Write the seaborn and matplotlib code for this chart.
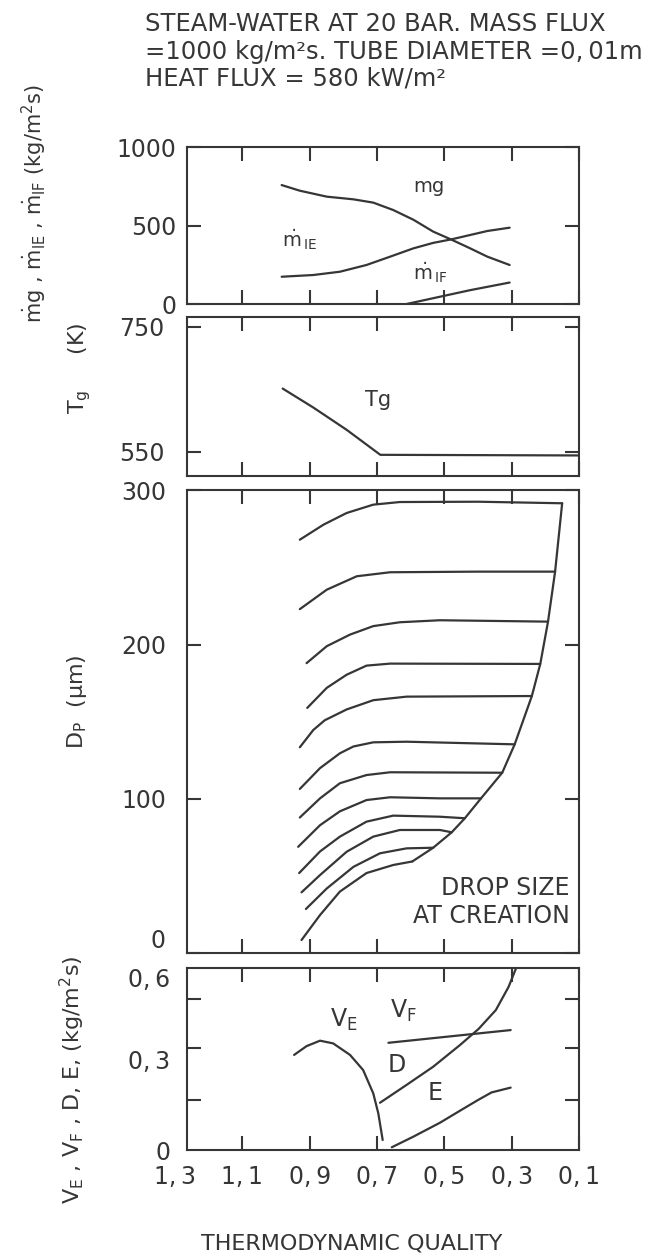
import matplotlib
matplotlib.use("Agg")
import matplotlib.pyplot as plt
import pandas as pd
import seaborn as sns

sns.set_theme(style="ticks")
plt.rcParams["font.family"] = ["DejaVu Sans"]
plt.rcParams["mathtext.fontset"] = "dejavusans"

INK = "#363636"
LW = 1.6
TICK_FS = 17

# ---- thermodynamic quality axis (decreasing to the right) ----
quality_ticks = [1.1, 0.9, 0.7, 0.5, 0.3, 0.1]
quality_labels = ["1,\u20091", "0,\u20099", "0,\u20097", "0,\u20095", "0,\u20093", "0,\u20091"]
quality_edge_label = "1,\u20093"

# ---- panel 1: gas and interfacial mass fluxes (kg/m2s) ----
mg_x = [0.983, 0.929, 0.849, 0.770, 0.711, 0.652, 0.592, 0.533, 0.478, 0.424, 0.372, 0.306]
mg_y = [759, 723, 685, 668, 647, 600, 538, 462, 410, 356, 302, 249]
mie_x = [0.983, 0.889, 0.810, 0.731, 0.661, 0.592, 0.533, 0.478, 0.424, 0.372, 0.306]
mie_y = [174, 185, 206, 249, 302, 355, 390, 413, 440, 466, 487]
mif_x = [0.612, 0.424, 0.306]
mif_y = [0, 88, 137]

# ---- panel 2: gas temperature (K) ----
tg_x = [0.980, 0.890, 0.790, 0.690, 0.100]
tg_y = [651, 621, 585, 545, 544]

# ---- panel 3: drop diameter histories (um); last point = size at creation ----
dp_x = [
    [0.929, 0.859, 0.790, 0.711, 0.632, 0.400, 0.150],
    [0.929, 0.849, 0.760, 0.661, 0.400, 0.171],
    [0.909, 0.849, 0.780, 0.711, 0.632, 0.513, 0.192],
    [0.907, 0.849, 0.790, 0.731, 0.661, 0.215],
    [0.929, 0.889, 0.855, 0.790, 0.711, 0.612, 0.240],
    [0.929, 0.869, 0.810, 0.770, 0.711, 0.612, 0.291],
    [0.929, 0.869, 0.810, 0.731, 0.661, 0.328],
    [0.934, 0.869, 0.810, 0.731, 0.661, 0.513, 0.391],
    [0.931, 0.869, 0.810, 0.731, 0.652, 0.513, 0.439],
    [0.924, 0.869, 0.790, 0.711, 0.632, 0.513, 0.478],
    [0.911, 0.849, 0.770, 0.691, 0.612, 0.533],
    [0.924, 0.869, 0.810, 0.731, 0.652, 0.595],
]
dp_y = [
    [268, 277.7, 285.3, 290.7, 292.4, 292.6, 291.6],
    [223, 235.6, 244.3, 246.9, 247.3, 247.3],
    [188, 199, 206.5, 212, 214.5, 215.8, 214.9],
    [159, 172, 180.5, 186.4, 187.7, 187.5],
    [133.5, 144.7, 151, 158, 164, 166.3, 166.7],
    [106.5, 120, 129.6, 134, 136.7, 137.1, 135.4],
    [88, 100.4, 110.2, 115.5, 117.3, 117],
    [69, 83, 92, 99.3, 101.1, 100.4, 100.4],
    [52, 66, 75.6, 85.3, 89.2, 88.5, 87.5],
    [39.5, 50.7, 65.8, 75.6, 79.9, 79.9, 78.4],
    [28.7, 42, 56, 64.8, 68, 68.4],
    [8.6, 24.8, 40, 52, 57.2, 59.5],
]

# ---- panel 4: deposition / entrainment / evaporation rates (kg/m2s) ----
ve_x = [0.946, 0.909, 0.869, 0.830, 0.780, 0.741, 0.711, 0.696, 0.683]
ve_y = [0.314, 0.343, 0.361, 0.352, 0.314, 0.264, 0.187, 0.121, 0.033]
vf_x = [0.666, 0.303]
vf_y = [0.354, 0.396]
d_x = [0.691, 0.612, 0.533, 0.453, 0.398, 0.347, 0.309, 0.287]
d_y = [0.156, 0.215, 0.275, 0.347, 0.400, 0.462, 0.539, 0.600]
e_x = [0.656, 0.592, 0.513, 0.453, 0.400, 0.360, 0.303]
e_y = [0.009, 0.044, 0.090, 0.130, 0.165, 0.190, 0.206]

TITLE = [
    "STEAM-WATER AT 20 BAR. MASS FLUX",
    "=1000 kg/m\u00b2s. TUBE DIAMETER =0,\u200901m",
    "HEAT FLUX = 580 kW/m\u00b2",
]

fig = plt.figure(figsize=(6.62, 12.58), dpi=100)
W, H = 662.0, 1258.0
LEFT, RIGHT = 186.7, 579.0


def panel(top, bottom):
    return fig.add_axes([LEFT / W, 1 - bottom / H, (RIGHT - LEFT) / W, (bottom - top) / H])


ax1 = panel(147.3, 304.0)
ax2 = panel(317.3, 475.7)
ax3 = panel(490.3, 953.3)
ax4 = panel(968.3, 1150.0)
axes = [ax1, ax2, ax3, ax4]


def line(ax, x, y):
    sns.lineplot(x=x, y=y, ax=ax, sort=False, estimator=None, color=INK, lw=LW)


line(ax1, mg_x, mg_y)
line(ax1, mie_x, mie_y)
line(ax1, mif_x, mif_y)

line(ax2, tg_x, tg_y)

rows = []
for i, (xs, ys) in enumerate(zip(dp_x, dp_y)):
    rows += [{"curve": i, "quality": a, "dp": b} for a, b in zip(xs, ys)]
dp_df = pd.DataFrame(rows)
sns.lineplot(data=dp_df, x="quality", y="dp", units="curve", estimator=None,
             sort=False, color=INK, lw=LW, ax=ax3)
# drop size at creation: line through the end of every history
creation = dp_df.groupby("curve").tail(1)
sns.lineplot(data=creation, x="quality", y="dp", sort=False, estimator=None,
             color=INK, lw=LW, ax=ax3)

line(ax4, ve_x, ve_y)
line(ax4, vf_x, vf_y)
line(ax4, d_x, d_y)
line(ax4, e_x, e_y)

for ax in axes:
    ax.set_xlim(1.265, 0.1)
    ax.set_xticks(quality_ticks)
    ax.tick_params(axis="both", which="both", direction="in", length=10, width=1.5,
                   top=True, right=True, colors=INK, labelcolor=INK, labelsize=TICK_FS)
    for s in ax.spines.values():
        s.set_linewidth(1.5)
        s.set_color(INK)
    ax.set_xlabel("")
    ax.set_ylabel("")
    ax.set_facecolor("white")
for ax in axes[:3]:
    ax.tick_params(axis="x", labelbottom=False)

ax4.set_xticklabels(quality_labels)
ax4.tick_params(axis="x", pad=11)
ax4.annotate(quality_edge_label, xy=(1.3, 0), xycoords=("data", "axes fraction"),
             xytext=(0, -11), textcoords="offset points", ha="center", va="top",
             fontsize=TICK_FS, color=INK, annotation_clip=False)

ax1.set_ylim(0, 1000)
ax1.set_yticks([0, 500, 1000], ["0", "500", "1000"])
ax1.tick_params(axis="y", pad=7.5)

ax2.set_ylim(511.6, 765)
ax2.set_yticks([550, 750], ["550", "750"])
ax2.tick_params(axis="y", pad=16)

ax3.set_ylim(0, 300)
ax3.set_yticks([0, 100, 200, 300], ["0", "100", "200", "300"])
ax3.tick_params(axis="y", pad=15)
# keep the zero label inside its own panel
ax3.yaxis.get_major_ticks()[0].label1.set_va("bottom")

ax4.set_ylim(0, 0.6)
ax4.set_yticks([0, 0.3, 0.6], ["0", "0,\u20093", "0,\u20096"])
ax4.set_yticks([0.165, 0.336, 0.498], minor=True)
ax4.tick_params(axis="y", which="major", length=0, pad=12)
ax4.tick_params(axis="y", which="minor", length=10, width=1.5, left=True, right=True)
ax4.yaxis.get_major_ticks()[2].label1.set_va("top")

# axis titles
ylabels = [
    (ax1, r"$\dot{\mathrm{m}}$g , $\dot{\mathrm{m}}_{\mathrm{IE}}$ , $\dot{\mathrm{m}}_{\mathrm{IF}}$ (kg/m$^2$s)", 15, -0.387, 0.638),
    (ax2, r"T$_{\mathrm{g}}$     (K)", 16, -0.272, 0.680),
    (ax3, r"D$_{\mathrm{P}}$  (μm)", 16, -0.280, 0.543),
    (ax4, r"V$_{\mathrm{E}}$ , V$_{\mathrm{F}}$ , D, E, (kg/m$^2$s)", 16, -0.292, 0.385),
]
for ax, txt, fs, cx, cy in ylabels:
    ax.set_ylabel(txt, fontsize=fs, color=INK, va="center", ha="center")
    ax.yaxis.set_label_coords(cx, cy)

ax4.set_xlabel("THERMODYNAMIC QUALITY", fontsize=16, color=INK, va="baseline")
ax4.xaxis.set_label_coords(0.4214, -0.55)

# curve labels
ax1.text(0.5455, 747, "mg", fontsize=14, color=INK, ha="center", va="center")
ax1.text(0.983, 366, r"$\dot{\mathrm{m}}_{\,\mathrm{IE}}$", fontsize=14, color=INK,
         ha="left", va="baseline")
ax1.text(0.593, 153, r"$\dot{\mathrm{m}}_{\,\mathrm{IF}}$", fontsize=14, color=INK,
         ha="left", va="baseline")
ax2.text(0.697, 633, "Tg", fontsize=15, color=INK, ha="center", va="center")
ax3.text(0.127, 37.8, "DROP SIZE", fontsize=17, color=INK, ha="right", va="baseline")
ax3.text(0.127, 19.6, "AT CREATION", fontsize=17, color=INK, ha="right", va="baseline")
ax4.text(0.8395, 0.406, r"V$_{\mathrm{E}}$", fontsize=17, color=INK, ha="left", va="baseline")
ax4.text(0.661, 0.436, r"V$_{\mathrm{F}}$", fontsize=17, color=INK, ha="left", va="baseline")
ax4.text(0.667, 0.258, "D", fontsize=17, color=INK, ha="left", va="baseline")
ax4.text(0.5485, 0.165, "E", fontsize=17, color=INK, ha="left", va="baseline")

for line_txt, base in zip(TITLE, [31, 59, 86]):
    fig.text(145 / W, 1 - base / H, line_txt, fontsize=17.5, color=INK,
             ha="left", va="baseline")

fig.savefig("out.png", dpi=100, facecolor="white")
